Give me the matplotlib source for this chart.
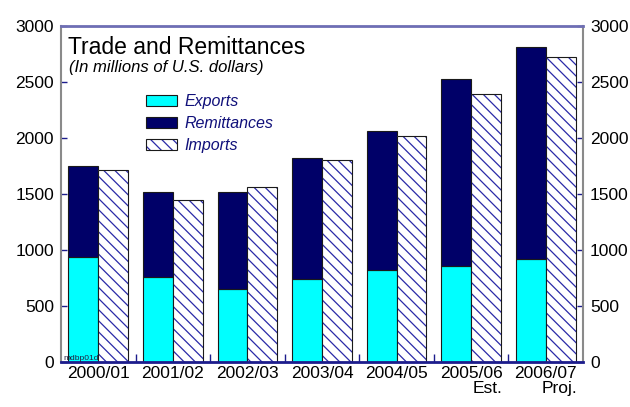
import numpy as np
import matplotlib
matplotlib.use('Agg')
from matplotlib import pyplot as plt
from matplotlib.patches import Patch

# fiscal years and values (millions of US$)
years = ['2000/01', '2001/02', '2002/03', '2003/04', '2004/05', '2005/06\nEst.', '2006/07\nProj.']
exports = [940, 755, 650, 740, 825, 860, 920]
remittances = [810, 765, 870, 1080, 1235, 1670, 1890]
imports = [1710, 1445, 1560, 1800, 2020, 2390, 2720]

CYAN = '#00ffff'
NAVY = '#000068'
HATCH_BLUE = '#2a2aa8'
TEXT_BLUE = '#10107a'
EDGE = '#1a1a1a'

plt.rcParams['font.family'] = ['Liberation Sans', 'DejaVu Sans']
plt.rcParams['hatch.linewidth'] = 0.9

W, H = 630, 407
fig = plt.figure(figsize=(W / 100, H / 100), dpi=100)
ax = fig.add_axes([61 / W, 1 - 362 / H, (583 - 61) / W, (362 - 26) / H])

x = np.arange(len(years))
bw = 0.4

# stacked exports + remittances on the left
ax.bar(x + 0.1, exports, bw, align='edge', color=CYAN, edgecolor=EDGE, linewidth=0.8)
ax.bar(x + 0.1, remittances, bw, bottom=exports, align='edge', color=NAVY,
       edgecolor=EDGE, linewidth=0.8)
# imports: blue hatch fill first (hatch takes edge colour), then black outline
ax.bar(x + 0.5, imports, bw, align='edge', color='white', edgecolor=HATCH_BLUE,
       linewidth=0, hatch='\\\\\\')
ax.bar(x + 0.5, imports, bw, align='edge', fill=False, edgecolor=EDGE, linewidth=0.8)

ax.set_xlim(0, len(years))
ax.set_ylim(0, 3000)

# spines
ax.spines['left'].set_color('#8a8a8a')
ax.spines['right'].set_color('#8a8a8a')
ax.spines['left'].set_linewidth(1.5)
ax.spines['right'].set_linewidth(1.5)
ax.spines['top'].set_color('#6e6eb4')
ax.spines['top'].set_linewidth(2)
ax.spines['bottom'].set_color('#1c1c8c')
ax.spines['bottom'].set_linewidth(2)

# y axis labelled on both sides
ax.set_yticks(np.arange(0, 3001, 500))
ax.tick_params(axis='y', direction='in', length=4, width=1, color='#1c1c8c',
               left=True, right=True, labelleft=True, labelright=True,
               labelsize=12.5, pad=5)

# x ticks between groups, labels at group centres
ax.set_xticks(np.arange(1, len(years)))
ax.set_xticklabels([])
ax.tick_params(axis='x', which='major', direction='in', length=6, width=1, color='#1c1c8c')
ax.set_xticks(x + 0.5, minor=True)
ax.set_xticklabels(years, minor=True, fontsize=12.5, multialignment='right', linespacing=1.0)
ax.tick_params(axis='x', which='minor', length=0, pad=3)

# title block
fig.text(68 / W, 1 - 54 / H, 'Trade and Remittances', fontsize=16.5, va='baseline')
fig.text(69 / W, 1 - 72 / H, '(In millions of U.S. dollars)', fontsize=12,
         style='italic', va='baseline')

imp_fill = Patch(facecolor='white', edgecolor=HATCH_BLUE, linewidth=0, hatch='\\\\\\')
imp_edge = Patch(fill=False, edgecolor=EDGE, linewidth=0.8)
handles = [
    Patch(facecolor=CYAN, edgecolor=EDGE, linewidth=0.8),
    Patch(facecolor=NAVY, edgecolor=EDGE, linewidth=0.8),
    (imp_fill, imp_edge),
]
leg = fig.legend(handles, ['Exports', 'Remittances', 'Imports'], loc='upper left',
                 bbox_to_anchor=(146 / W, 1 - 94 / H),
                 frameon=False, fontsize=11.5, handlelength=1.95, handleheight=0.7,
                 handletextpad=0.45, labelspacing=0.45, borderpad=0, borderaxespad=0)
for t in leg.get_texts():
    t.set_color(TEXT_BLUE)
    t.set_style('italic')

# file tag in the corner
fig.text(63 / W, 1 - 360 / H, 'mdbp01d', fontsize=6, color='#202040', va='baseline')

fig.savefig('out.png', dpi=100)
